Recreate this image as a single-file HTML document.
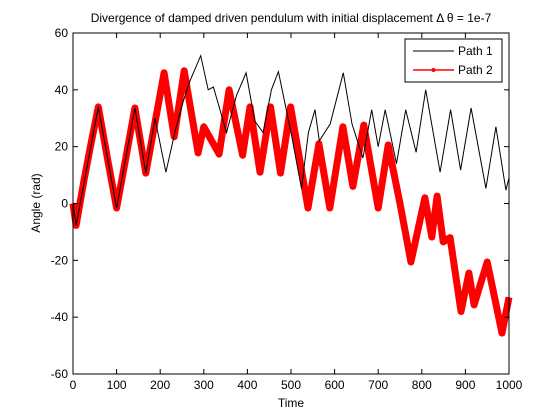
<!DOCTYPE html>
<html><head><meta charset="utf-8"><style>
body{margin:0;background:#fff}
svg{display:block;font-family:"Liberation Sans",Arial,sans-serif}
</style></head><body>
<svg id="chart" width="560" height="420">
<text x="291" y="22" font-size="12" text-anchor="middle">Divergence of damped driven pendulum with initial displacement Δ θ = 1e-7</text>
<g id="plot"></g>
<rect x="73" y="33" width="436" height="341" fill="none" stroke="#000"/>
<g id="ticks"></g>
<text x="291" y="407" font-size="12" text-anchor="middle">Time</text>
<text transform="translate(40,203) rotate(-90)" font-size="12" text-anchor="middle">Angle (rad)</text>
<g>
<rect x="405" y="39" width="97" height="43" fill="#fff" stroke="#000"/>
<g>
<line x1="413" y1="51" x2="454" y2="51" stroke="#000"/>
<text x="458" y="55" font-size="12">Path 1</text></g>
<g>
<line x1="413" y1="70" x2="454" y2="70" stroke="#f00" stroke-width="1.5"/>
<circle cx="433.5" cy="70" r="2" fill="#f00"/>
<text x="458" y="74" font-size="12">Path 2</text></g>
</g>
</svg>
<script>
const xTicks=[0,100,200,300,400,500,600,700,800,900,1000];
const yTicks=[-60,-40,-20,0,20,40,60];
const path1T=[0,7,58,100,142,167,188,213,235,253,268,293,310,322,352,375,397,417,436,455,471,500,524,540,555,565,590,620,640,665,685,700,716,742,763,787,809,842,866,889,913,947,970,993,1000];
const path1V=[0,-7.7,34,-1.6,33.6,10.7,30,11,26,36,43,52,40,41,25,38,46,29,25,40,46.4,25,5.3,25,33,22,28,46,28,16,33,20,33,14,33,18,40,11,33,11.8,33.6,5.3,27,4.7,9];
const path2T=[0,7,25,40,58,80,100,120,142,167,190,209,232,255,287,300,335,358,389,406,429,453,476,499,539,564,589,619,642,667,700,723,750,775,807,823,835,849,865,890,908,920,950,984,1000];
const path2V=[0,-7.7,8,20,34,15,-1.6,15,33.6,10.7,30,46,23.5,46.7,17.8,27,17.4,40,17,34,11,34,10.7,34,-1.6,21,-1.6,27,6,27.6,-1.6,20.6,0,-20.6,2,-11.8,2.6,-13.5,-12,-38,-24.5,-35.7,-20.6,-45.6,-33];
const NS='http://www.w3.org/2000/svg';
const X0=73,X1=509,Y0=374,Y1=33;
function sx(t){return X0+(t-0)/(1000-0)*(X1-X0);}
function sy(v){return Y0-(v+60)/120*(Y0-Y1);}
const plot=document.getElementById('plot');
const ticks=document.getElementById('ticks');
function mk(tag,attrs,parent){const e=document.createElementNS(NS,tag);for(const k in attrs)e.setAttribute(k,attrs[k]);parent.appendChild(e);return e;}
xTicks.forEach(t=>{
  const x=sx(t);
  const l=mk('line',{x1:x,y1:Y0,x2:x,y2:Y0-5,stroke:'#000'},ticks);
  
  
  mk('line',{x1:x,y1:Y1,x2:x,y2:Y1+5,stroke:'#000'},ticks);
  const tx=mk('text',{x:x,y:Y0+15,'font-size':12,'text-anchor':'middle'},ticks);
  tx.textContent=t;
  
  
});
yTicks.forEach(v=>{
  const y=sy(v);
  const l=mk('line',{x1:X0,y1:y,x2:X0+5,y2:y,stroke:'#000'},ticks);
  
  
  mk('line',{x1:X1,y1:y,x2:X1-5,y2:y,stroke:'#000'},ticks);
  const tx=mk('text',{x:X0-5,y:y+4,'font-size':12,'text-anchor':'end'},ticks);
  tx.textContent=v;
  
  
});
function pts(T,V){return T.map((t,i)=>sx(t).toFixed(1)+','+sy(V[i]).toFixed(1)).join(' ');}
const p2=mk('polyline',{points:pts(path2T,path2V),fill:'none',stroke:'#f00','stroke-width':7,'stroke-linejoin':'round'},plot);


const p1=mk('polyline',{points:pts(path1T,path1V),fill:'none',stroke:'#000','stroke-width':1},plot);


plot.insertBefore(p2,p1);
</script>
</body></html>
